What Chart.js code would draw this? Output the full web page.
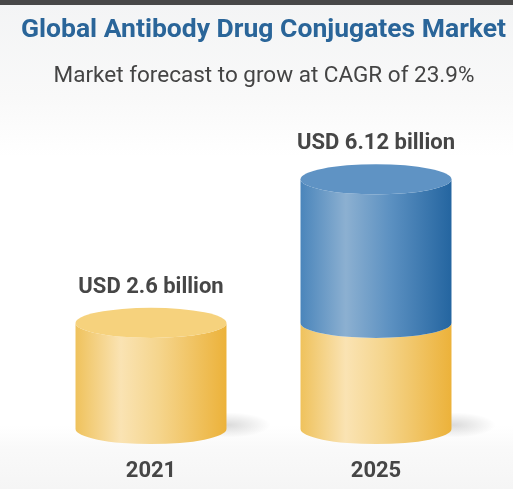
<!DOCTYPE html>
<html>
<head>
<meta charset="utf-8">
<script src="https://cdn.jsdelivr.net/npm/chart.js@4.4.1/dist/chart.umd.min.js"></script>
<style>
  html, body { margin: 0; padding: 0; background: #fff; }
  #wrap { width: 513px; height: 489px; position: relative; }
</style>
</head>
<body>
<div id="wrap"><canvas id="c" width="513" height="489"></canvas></div>
<script>
// Market size, USD billion
const years = ['2021', '2025'];
const baseSize = [2.6, 2.6];        // 2021 market size (yellow part)
const forecastSize = [null, 6.12];  // 2025 forecast (blue part on top)
const titleText = 'Global Antibody Drug Conjugates Market';
const subtitleText = 'Market forecast to grow at CAGR of 23.9%';
const valuePrefix = 'USD ';
const valueSuffix = ' billion';

const YELLOW = {
  side: [[0, '#efc25c'], [0.3, '#fae3b3'], [0.55, '#f5d58d'], [1, '#ecb23a']],
  top: '#f6d27d'
};
const BLUE = {
  side: [[0, '#4a85bb'], [0.3, '#8cb0d1'], [0.6, '#5b90c1'], [1, '#2465a0']],
  top: '#5f93c4'
};

function sideGradient(ctx, left, right, stops) {
  const g = ctx.createLinearGradient(left, 0, right, 0);
  stops.forEach(([p, c]) => g.addColorStop(p, c));
  return g;
}

// Paints each stacked bar as a cylinder: soft floor shadow, curved bodies, top cap
const cylinderPlugin = {
  id: 'cylinders',
  beforeDatasetsDraw(chart) {
    const ctx = chart.ctx;
    const n = chart.data.labels.length;
    for (let i = 0; i < n; i++) {
      const segs = [];
      chart.data.datasets.forEach((ds, d) => {
        const raw = ds.data[i];
        const el = chart.getDatasetMeta(d).data[i];
        if (raw === null || raw === undefined || !el) return;
        const p = el.getProps(['x', 'y', 'base', 'width'], true);
        segs.push({ p, style: ds.cylinder, value: Array.isArray(raw) ? raw[1] : raw });
      });
      if (!segs.length) continue;
      const first = segs[0].p;
      const rx = first.width / 2;
      const ry = first.width * 0.1;
      const cx = first.x;

      // floor shadow to the right of the base
      ctx.save();
      const sx = cx + rx + 2, sy = first.base - 4;
      ctx.translate(sx, sy);
      ctx.scale(1, 0.3);
      const sg = ctx.createRadialGradient(0, 0, 0, 0, 0, 42);
      sg.addColorStop(0, 'rgba(0,0,0,0.14)');
      sg.addColorStop(1, 'rgba(0,0,0,0)');
      ctx.fillStyle = sg;
      ctx.beginPath();
      ctx.arc(0, 0, 42, 0, Math.PI * 2);
      ctx.fill();
      ctx.restore();

      segs.forEach((s, k) => {
        const { x, y, base } = s.p;
        const left = x - rx, right = x + rx;
        ctx.save();
        ctx.beginPath();
        ctx.moveTo(left, y);
        ctx.lineTo(left, base);
        ctx.ellipse(x, base, rx, ry, 0, Math.PI, 0, true);
        ctx.lineTo(right, y);
        ctx.ellipse(x, y, rx, ry, 0, 0, Math.PI, false);
        ctx.closePath();
        ctx.fillStyle = sideGradient(ctx, left, right, s.style.side);
        ctx.fill();
        if (k === segs.length - 1) {
          ctx.beginPath();
          ctx.ellipse(x, y, rx, ry, 0, 0, Math.PI * 2);
          ctx.fillStyle = s.style.top;
          ctx.fill();
          // value label above the cap
          ctx.font = 'bold 22px Roboto';
          ctx.fillStyle = '#464646';
          ctx.textAlign = 'center';
          ctx.textBaseline = 'alphabetic';
          ctx.fillText(valuePrefix + s.value + valueSuffix, x, y - ry - 15);
        }
        ctx.restore();
      });
    }
  }
};

// Page backdrop, top strip and headings
const framePlugin = {
  id: 'frame',
  beforeDraw(chart) {
    const { ctx, width, height } = chart;
    ctx.save();
    const g = ctx.createLinearGradient(0, 0, 0, height);
    g.addColorStop(0, '#f3f4f5');
    g.addColorStop(0.2, '#f9f9f9');
    g.addColorStop(0.32, '#ffffff');
    g.addColorStop(0.87, '#ffffff');
    g.addColorStop(0.92, '#f9f9f9');
    g.addColorStop(1, '#f5f5f5');
    ctx.fillStyle = g;
    ctx.fillRect(0, 0, width, height);
    ctx.fillStyle = '#484848';
    ctx.fillRect(0, 0, width, 5);

    ctx.textAlign = 'center';
    ctx.textBaseline = 'alphabetic';
    ctx.font = 'bold 26.5px Roboto';
    ctx.fillStyle = '#2a6599';
    ctx.fillText(titleText, 263.5, 37);
    ctx.font = '22.5px Roboto';
    ctx.fillStyle = '#444444';
    ctx.fillText(subtitleText, 264, 82);
    ctx.restore();
  }
};

new Chart(document.getElementById('c'), {
  type: 'bar',
  data: {
    labels: years,
    datasets: [
      {
        label: '2021 base',
        data: baseSize,
        cylinder: YELLOW,
        backgroundColor: 'rgba(0,0,0,0)',
        borderWidth: 0
      },
      {
        label: 'Growth to 2025',
        data: forecastSize.map((v, i) => (v === null ? null : [baseSize[i], v])),
        cylinder: BLUE,
        backgroundColor: 'rgba(0,0,0,0)',
        borderWidth: 0
      }
    ]
  },
  options: {
    responsive: false,
    animation: false,
    devicePixelRatio: 1,
    grouped: false,
    categoryPercentage: 1,
    barPercentage: 0.671,
    layout: { padding: { top: 102.6, left: 38.5, right: 24.5, bottom: 5.6 } },
    plugins: {
      legend: { display: false },
      tooltip: { enabled: false },
      title: { display: false }
    },
    scales: {
      x: {
        grid: { display: false, drawTicks: false },
        border: { display: false },
        afterFit(scale) { scale.height = 54.4; },
        ticks: {
          padding: 29.2,
          color: '#464646',
          font: { family: 'Roboto', size: 22, weight: 'bold' }
        }
      },
      y: {
        display: false,
        min: 0,
        max: 8
      }
    }
  },
  plugins: [framePlugin, cylinderPlugin]
});
</script>
</body>
</html>
